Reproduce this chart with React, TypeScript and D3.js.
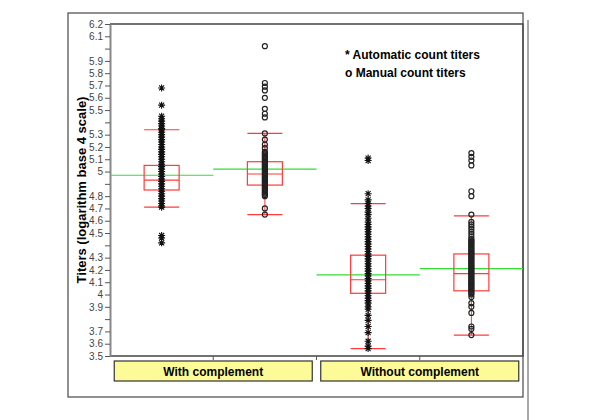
import React, { useEffect, useRef } from 'react'
import * as d3 from 'd3'

// series: two groups x two counting methods
const seriesIds = ['withAuto', 'withManual', 'withoutAuto', 'withoutManual']
const seriesMarker = ['star', 'circle', 'star', 'circle']
const groupNames = ['With complement', 'Without complement']

// box statistics
const whiskerHigh = [5.34, 5.31, 4.74, 4.64]
const q3 = [5.05, 5.08, 4.32, 4.33]
const medians = [4.93, 4.98, 4.12, 4.17]
const q1 = [4.85, 4.89, 4.01, 4.03]
const whiskerLow = [4.71, 4.65, 3.56, 3.67]
const means = [4.97, 5.02, 4.16, 4.21]

// individual titers
const withAuto = [5.68, 5.54, 5.45, 5.43, 5.41, 5.39, 5.37, 5.35, 5.34, 5.32, 5.3, 5.28, 5.26, 5.24,
  5.22, 5.2, 5.18, 5.16, 5.14, 5.12, 5.1, 5.08, 5.06, 5.04, 5.02, 5.0, 4.98, 4.96, 4.94, 4.92,
  4.9, 4.88, 4.86, 4.84, 4.82, 4.8, 4.78, 4.76, 4.74, 4.72, 4.71, 4.48, 4.46, 4.42]
const withManual = [6.02, 5.72, 5.69, 5.66, 5.6, 5.51, 5.47, 5.44, 5.31, 5.26, 5.22, 5.19, 5.16, 5.15,
  5.14, 5.13, 5.12, 5.11, 5.1, 5.09, 5.08, 5.07, 5.06, 5.05, 5.04, 5.03, 5.02, 5.01, 5.0, 4.99,
  4.98, 4.97, 4.96, 4.95, 4.94, 4.93, 4.92, 4.91, 4.9, 4.89, 4.88, 4.87, 4.86, 4.85, 4.84, 4.83,
  4.82, 4.81, 4.8, 4.7, 4.65]
const withoutAuto = [5.11, 5.09, 4.82, 4.77, 4.74, 4.72, 4.7, 4.67, 4.65, 4.62, 4.59, 4.57, 4.55, 4.53,
  4.51, 4.49, 4.47, 4.45, 4.43, 4.41, 4.39, 4.37, 4.35, 4.33, 4.31, 4.29, 4.27, 4.25, 4.23, 4.21,
  4.19, 4.17, 4.15, 4.13, 4.11, 4.09, 4.07, 4.05, 4.03, 4.01, 3.99, 3.97, 3.95, 3.93, 3.9, 3.88,
  3.83, 3.79, 3.74, 3.69, 3.62, 3.58, 3.56]
const withoutManual = [5.15, 5.12, 5.09, 5.05, 4.84, 4.8, 4.65, 4.59, 4.57, 4.55, 4.53, 4.51, 4.49,
  4.47, 4.45, 4.44, 4.43, 4.42, 4.41, 4.4, 4.39, 4.38, 4.37, 4.36, 4.35, 4.34, 4.33, 4.32, 4.31,
  4.3, 4.29, 4.28, 4.27, 4.26, 4.25, 4.24, 4.23, 4.22, 4.21, 4.2, 4.19, 4.18, 4.17, 4.16, 4.15,
  4.14, 4.13, 4.12, 4.11, 4.1, 4.09, 4.08, 4.07, 4.06, 4.05, 4.04, 4.03, 4.02, 4.01, 4.0, 3.98,
  3.93, 3.9, 3.85, 3.74, 3.72, 3.67]
const seriesPoints = [withAuto, withManual, withoutAuto, withoutManual]

// y ticks (some are left without label, as in the original)
const tickValues = [3.5, 3.6, 3.7, 3.8, 3.9, 4.0, 4.1, 4.2, 4.3, 4.4, 4.5, 4.6, 4.7, 4.8, 4.9, 5.0,
  5.1, 5.2, 5.3, 5.4, 5.5, 5.6, 5.7, 5.8, 5.9, 6.0, 6.1, 6.2]
const tickLabels = ['3.5', '3.6', '3.7', '', '3.9', '4', '4.1', '4.2', '4.3', '', '4.5', '4.6', '4.7',
  '4.8', '', '5', '5.1', '5.2', '5.3', '', '5.5', '5.6', '5.7', '5.8', '5.9', '', '6.1', '6.2']

const legendLines = ['* Automatic count titers', 'o Manual count titers']

function drawChart(el: SVGSVGElement) {
  const svg = d3.select(el)
  svg.selectAll('*').remove()
  const font = 'Arial, "Liberation Sans", sans-serif'
  const plot = { left: 110, right: 523, top: 24, bottom: 356 }

  const y = d3.scaleLinear().domain([3.5, 6.2]).range([plot.bottom, plot.top])
  const x = d3.scaleBand().domain(seriesIds).range([plot.left, plot.right])
  const xg = d3.scaleBand().domain(groupNames).range([plot.left, plot.right])
  const boxW = 35

  // shadow line on the right
  svg.append('line').attr('x1', 528).attr('x2', 528).attr('y1', 20).attr('y2', 420)
    .attr('stroke', '#aaa').attr('stroke-width', 2)

  // outer frame
  svg.append('rect').attr('x', 68).attr('y', 13).attr('width', 455).attr('height', 384)
    .attr('fill', 'white').attr('stroke', '#555').attr('stroke-width', 1.3)

  // plot frame
  svg.append('path')
    .attr('d', `M${plot.left},${plot.top}H${plot.right}V${plot.bottom}H${plot.left}`)
    .attr('fill', 'none').attr('stroke', '#444').attr('stroke-width', 1.3)

  // y axis
  const yAxis = svg.append('g').attr('transform', `translate(${plot.left},0)`)
    .call(d3.axisLeft(y).tickValues(tickValues).tickSize(5).tickSizeOuter(0)
      .tickFormat((d, i) => tickLabels[i]))
  yAxis.select('.domain').attr('stroke', '#888').attr('stroke-width', 2)
  yAxis.selectAll('.tick line').attr('stroke', '#555')
  yAxis.selectAll('.tick text').attr('font-family', font).attr('font-size', 10)
    .attr('fill', '#444').attr('x', -7)

  // x ticks between series
  const xTicks = [seriesIds[1], seriesIds[2], seriesIds[3]]
  svg.selectAll('line.xtick').data(xTicks).join('line').attr('class', 'xtick')
    .attr('x1', d => x(d)!).attr('x2', d => x(d)!)
    .attr('y1', plot.bottom).attr('y2', plot.bottom + 4)
    .attr('stroke', '#555')

  // y title
  svg.append('text')
    .attr('transform', `translate(86,${(plot.top + plot.bottom) / 2}) rotate(-90)`)
    .attr('text-anchor', 'middle').attr('font-family', font).attr('font-size', 13)
    .attr('font-weight', 'bold').text('Titers (logarithm base 4 scale)')

  const cx = (i: number) => x(seriesIds[i])! + x.bandwidth() / 2
  const idx = d3.range(seriesIds.length)

  // mean lines (green) span the whole band
  svg.selectAll('line.mean').data(idx).join('line').attr('class', 'mean')
    .attr('x1', i => x(seriesIds[i])!).attr('x2', i => x(seriesIds[i])! + x.bandwidth())
    .attr('y1', i => y(means[i])).attr('y2', i => y(means[i]))
    .attr('stroke', '#33dd33').attr('stroke-width', 1.2)

  const red = '#ff3b3b'
  // whisker stem
  svg.selectAll('line.stem').data(idx).join('line').attr('class', 'stem')
    .attr('x1', cx).attr('x2', cx)
    .attr('y1', i => y(whiskerLow[i])).attr('y2', i => y(whiskerHigh[i]))
    .attr('stroke', red).attr('stroke-width', 1)
  // caps
  svg.selectAll('line.capH').data(idx).join('line').attr('class', 'capH')
    .attr('x1', i => cx(i) - boxW / 2).attr('x2', i => cx(i) + boxW / 2)
    .attr('y1', i => y(whiskerHigh[i])).attr('y2', i => y(whiskerHigh[i]))
    .attr('stroke', red).attr('stroke-width', 1.2)
  svg.selectAll('line.capL').data(idx).join('line').attr('class', 'capL')
    .attr('x1', i => cx(i) - boxW / 2).attr('x2', i => cx(i) + boxW / 2)
    .attr('y1', i => y(whiskerLow[i])).attr('y2', i => y(whiskerLow[i]))
    .attr('stroke', red).attr('stroke-width', 1.2)
  // boxes
  svg.selectAll('rect.box').data(idx).join('rect').attr('class', 'box')
    .attr('x', i => cx(i) - boxW / 2).attr('width', boxW)
    .attr('y', i => y(q3[i])).attr('height', i => y(q1[i]) - y(q3[i]))
    .attr('fill', 'none').attr('stroke', red).attr('stroke-width', 1.2)
  svg.selectAll('line.median').data(idx).join('line').attr('class', 'median')
    .attr('x1', i => cx(i) - boxW / 2).attr('x2', i => cx(i) + boxW / 2)
    .attr('y1', i => y(medians[i])).attr('y2', i => y(medians[i]))
    .attr('stroke', red).attr('stroke-width', 1.2)

  // points
  const star = 'M-3.5,0H3.5M0,-3.5V3.5M-2.5,-2.5L2.5,2.5M-2.5,2.5L2.5,-2.5'
  idx.forEach(i => {
    const g = svg.append('g')
    const pts = seriesPoints[i]
    if (seriesMarker[i] === 'star') {
      g.selectAll('path').data(pts).join('path')
        .attr('transform', v => `translate(${cx(i)},${y(v)})`)
        .attr('d', star).attr('stroke', '#111').attr('stroke-width', 1.1)
    } else {
      g.selectAll('circle').data(pts).join('circle')
        .attr('cx', cx(i)).attr('cy', v => y(v)).attr('r', 2.5)
        .attr('fill', 'none').attr('stroke', '#222').attr('stroke-width', 1.2)
    }
  })

  // category label boxes
  const labelW = 198
  const lg = svg.selectAll('g.cat').data(groupNames).join('g').attr('class', 'cat')
    .attr('transform', d => `translate(${xg(d)! + xg.bandwidth() / 2},0)`)
  lg.append('rect').attr('x', -labelW / 2).attr('y', 361).attr('width', labelW).attr('height', 20)
    .attr('fill', '#fdfb98').attr('stroke', '#333').attr('stroke-width', 1.2)
  lg.append('text').attr('y', 376).attr('text-anchor', 'middle')
    .attr('font-family', font).attr('font-size', 12).attr('font-weight', 'bold')
    .text(d => d)

  // legend
  svg.selectAll('text.legend').data(legendLines).join('text').attr('class', 'legend')
    .attr('x', 345).attr('y', (d, i) => 59 + i * 18)
    .attr('font-family', font).attr('font-size', 12).attr('font-weight', 'bold')
    .text(d => d)
}

const App = () => {
  const ref = useRef<SVGSVGElement>(null)
  useEffect(() => {
    if (ref.current) drawChart(ref.current)
  }, [])
  return (
    <svg ref={ref} width={600} height={420}
      style={{ position: 'absolute', left: 0, top: 0, background: 'white' }} />
  )
}

export default App
